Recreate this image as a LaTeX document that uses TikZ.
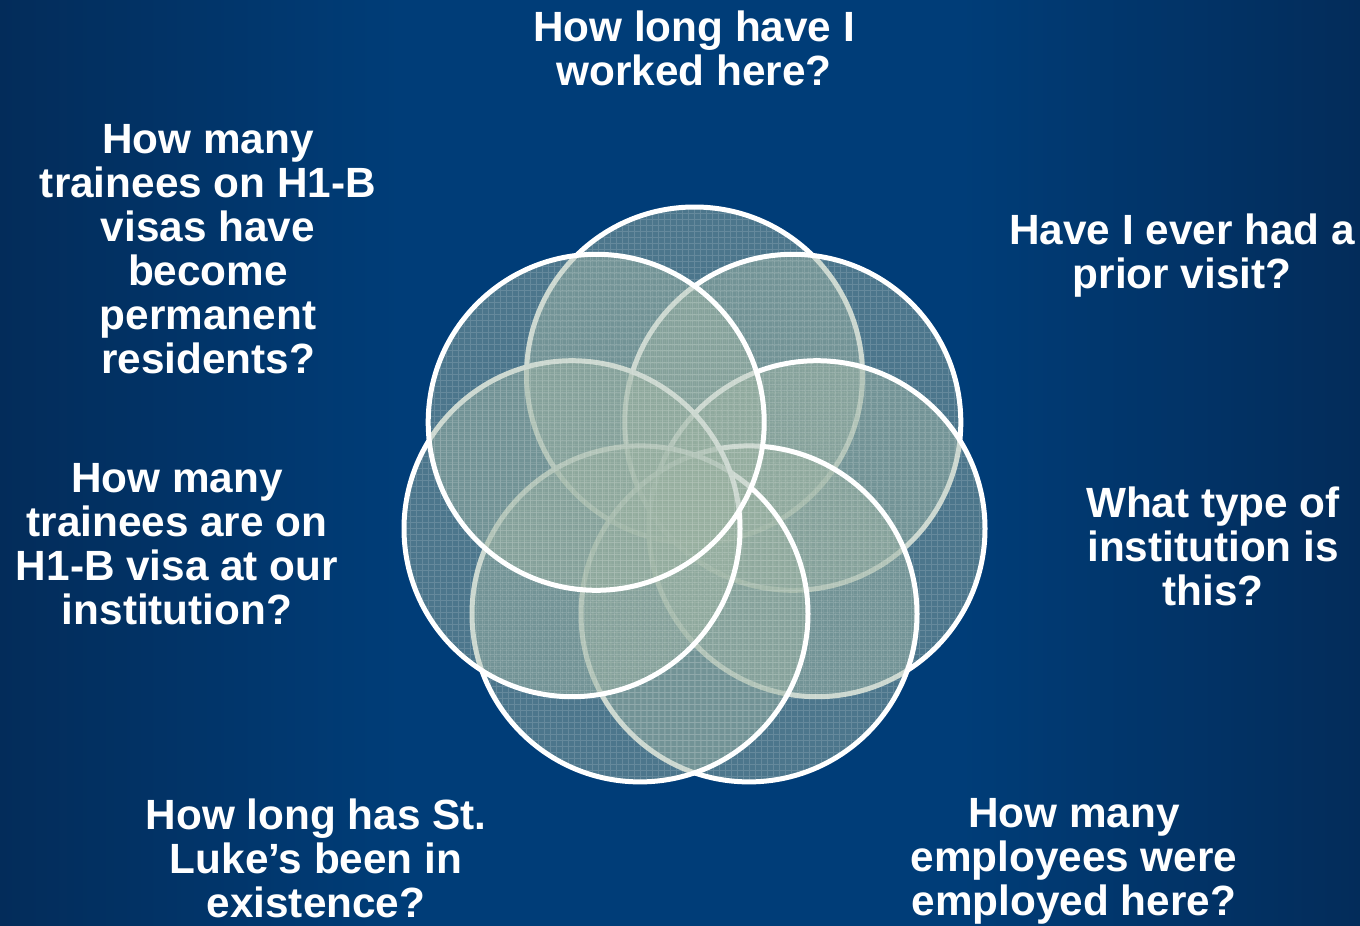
\documentclass[tikz,border=0pt]{standalone}
\usepackage{fontspec}
\setmainfont{Liberation Sans}

\definecolor{bgmid}{HTML}{003D78}
\definecolor{bgedge}{HTML}{032C5A}
\definecolor{sage}{HTML}{98B0A0}
\def\gridop{0.14}
\tikzstyle{petal}=[draw=white,circle,line width=2.5pt,minimum size=168pt,
                   inner sep=0pt,outer sep=0pt,fill=sage,fill opacity=0.5,
                   path picture={\draw[white,draw opacity=\gridop,line width=0.35pt,step=3pt]
                     (path picture bounding box.south west) grid
                     (path picture bounding box.north east);}]
\tikzstyle{question}=[text=white,align=center,anchor=north,inner sep=0pt,
                      font=\bfseries\fontsize{21.15pt}{22pt}\selectfont]

\begin{document}
\begin{tikzpicture}[x=0.5pt,y=-0.5pt]
  \useasboundingbox (0,0) rectangle (1360,926);
  \clip (0,0) rectangle (1360,926);
  \fill[bgmid] (0,0) rectangle (1360,926);
  \shade[left color=bgedge,right color=bgmid] (0,0) rectangle (400,926);
  \shade[left color=bgmid,right color=bgedge] (960,0) rectangle (1360,926);

  % Petals, clockwise from the top
  \node[petal] (ptop) at (694.5,375) {};
  \node[petal] (pur) at (792.8,422.3) {};
  \node[petal] (pr) at (817,528.7) {};
  \node[petal] (plr) at (749,613.9) {};
  \node[petal] (pll) at (640,613.9) {};
  \node[petal] (pl) at (572,528.7) {};
  \node[petal] (pul) at (596.2,422.3) {};

  % Questions
  \node[question] (qtop) at (694,10) {How long have I\\worked here?};
  \node[question] (qul) at (208,124) {How many\\trainees on H1-B\\visas have\\become\\permanent\\residents?};
  \node[question] (qur) at (1182,213) {Have I ever had a\\prior visit?};
  \node[question] (ql) at (177,463) {How many\\trainees are on\\H1-B visa at our\\institution?};
  \node[question] (qr) at (1213,486) {What type of\\institution is\\this?};
  \node[question] (qll) at (316,798) {How long has St.\\Luke’s been in\\existence?};
  \node[question] (qlr) at (1074,798) {How many\\employees were\\employed here?};
\end{tikzpicture}
\end{document}
